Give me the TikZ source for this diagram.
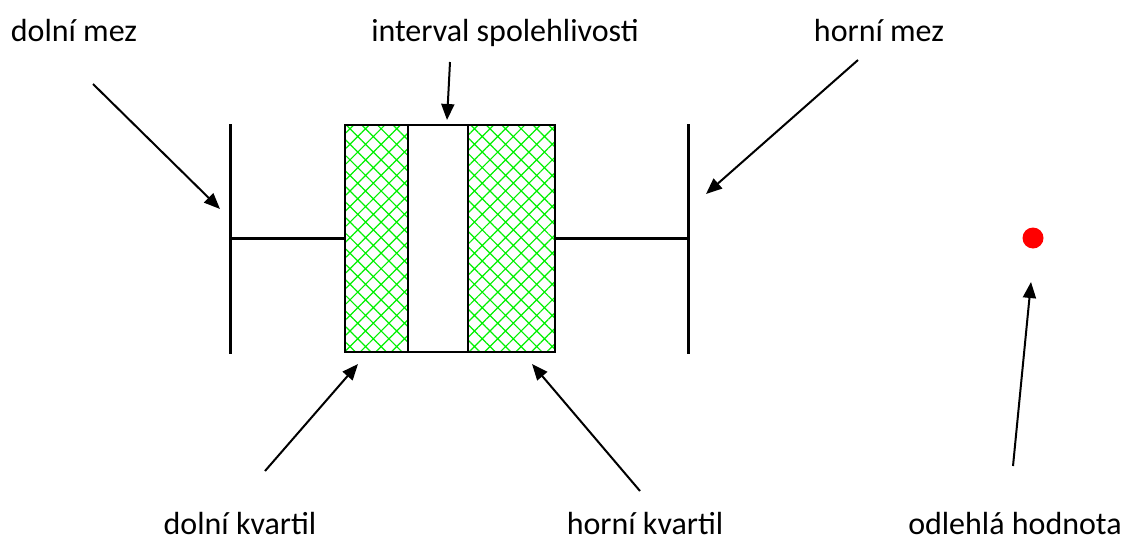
\documentclass[tikz,border=0pt]{standalone}
\usepackage{fontspec}
\setmainfont{Carlito}
\usetikzlibrary{arrows.meta,patterns.meta}
\begin{document}
\begin{tikzpicture}[x=1pt,y=-1pt,
  lbl/.style={font=\fontsize{32}{36}\selectfont, inner sep=0pt, anchor=base},
  pointer/.style={line width=2pt, -{Triangle[length=16pt,width=13pt]}},
  whisker/.style={line width=3pt},
  hatched/.style={pattern={Hatch[angle=45,distance=11pt,line width=1.2pt]}, pattern color={rgb,255:red,0;green,240;blue,0}}]
\useasboundingbox (0,0) rectangle (1121,541);
% whiskers
\coordinate (lwt) at (230,124);
\coordinate (lwb) at (230,354);
\coordinate (lwm) at (230,238);
\coordinate (rwt) at (688,124);
\coordinate (rwb) at (688,354);
\coordinate (rwm) at (688,238);
\coordinate (bl) at (345,238);
\coordinate (br) at (555,238);
\draw[whisker] (lwt) -- (lwb);
\draw[whisker] (rwt) -- (rwb);
\draw[whisker] (lwm) -- (bl);
\draw[whisker] (br) -- (rwm);
% box
\fill[hatched] (345,125) rectangle (408,352);
\fill[hatched] (468,125) rectangle (555,352);
\draw[line width=1.6pt] (345,125) rectangle (555,352);
\draw[line width=1.6pt] (408,125) -- (408,352);
\draw[line width=1.6pt] (468,125) -- (468,352);
% outlier
\fill[red] (1033,238) circle (10.5);
% labels
\node[lbl] (dm) at (74,41) {dolní mez};
\node[lbl] (is) at (505,41) {interval spolehlivosti};
\node[lbl] (hm) at (879,41) {horní mez};
\node[lbl] (dk) at (240,534) {dolní kvartil};
\node[lbl] (hk) at (645,534) {horní kvartil};
\node[lbl] (oh) at (1015,534) {odlehlá hodnota};
% pointer coordinates
\coordinate (dm1) at (93,84);   \coordinate (dm2) at (220,209);
\coordinate (is1) at (450,62);  \coordinate (is2) at (447,120);
\coordinate (hm1) at (858,60);  \coordinate (hm2) at (706,194);
\coordinate (dk1) at (265,471); \coordinate (dk2) at (358,364);
\coordinate (hk1) at (640,491); \coordinate (hk2) at (532,364);
\coordinate (oh1) at (1013,466);\coordinate (oh2) at (1031,282);
\draw[pointer] (dm1) -- (dm2);
\draw[pointer] (is1) -- (is2);
\draw[pointer] (hm1) -- (hm2);
\draw[pointer] (dk1) -- (dk2);
\draw[pointer] (hk1) -- (hk2);
\draw[pointer] (oh1) -- (oh2);
\end{tikzpicture}
\end{document}
